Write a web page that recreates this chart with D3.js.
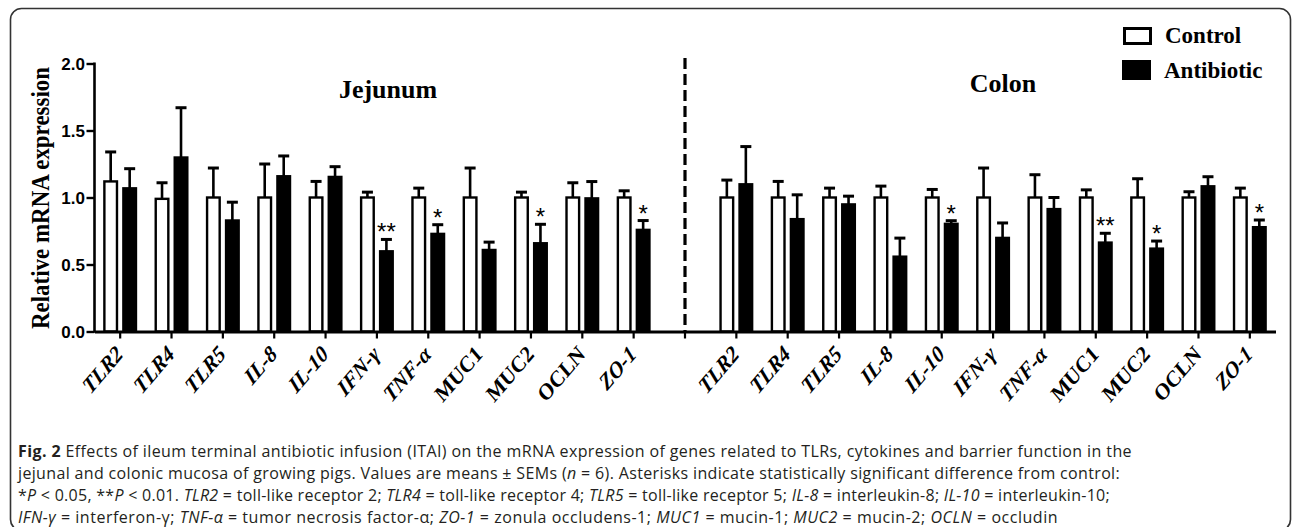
<!DOCTYPE html>
<html>
<head>
<meta charset="utf-8">
<script src="https://cdn.jsdelivr.net/npm/d3@7"></script>
<style>
  html, body { margin: 0; padding: 0; background: #fff; }
  svg { display: block; }
</style>
</head>
<body>
<svg id="chart" width="1292" height="527"></svg>
<script>
// ---------------- DATA ----------------
const genes = ["TLR2", "TLR4", "TLR5", "IL-8", "IL-10", "IFN-γ", "TNF-α", "MUC1", "MUC2", "OCLN", "ZO-1"];
const italicGenes = ["TLR2", "TLR4", "TLR5", "IL-8", "IL-10", "IFN-γ", "TNF-α", "ZO-1"];
const groups = ["Control", "Antibiotic"];
const yTicks = [0, 0.5, 1.0, 1.5, 2.0];

const jejControlMean = [1.12, 0.99, 1.00, 1.00, 1.00, 1.00, 1.00, 1.00, 1.00, 1.00, 1.00];
const jejControlSem  = [0.22, 0.12, 0.22, 0.25, 0.12, 0.04, 0.07, 0.22, 0.04, 0.11, 0.05];
const jejAntiMean    = [1.07, 1.30, 0.83, 1.16, 1.155, 0.60, 0.73, 0.61, 0.66, 0.995, 0.76];
const jejAntiSem     = [0.145, 0.37, 0.135, 0.15, 0.075, 0.087, 0.067, 0.057, 0.14, 0.124, 0.068];
const jejSig         = ["", "", "", "", "", "**", "*", "", "*", "", "*"];

const colControlMean = [1.00, 1.00, 1.00, 1.00, 1.00, 1.00, 1.00, 1.00, 1.00, 1.00, 1.00];
const colControlSem  = [0.13, 0.12, 0.07, 0.085, 0.06, 0.22, 0.17, 0.057, 0.14, 0.043, 0.07];
const colAntiMean    = [1.10, 0.84, 0.95, 0.56, 0.805, 0.70, 0.915, 0.665, 0.62, 1.085, 0.78];
const colAntiSem     = [0.28, 0.18, 0.06, 0.137, 0.022, 0.11, 0.085, 0.068, 0.055, 0.07, 0.052];
const colSig         = ["", "", "", "", "*", "", "", "**", "*", "", "*"];

const sectionTitles = ["Jejunum", "Colon"];

// ---------------- BUILD ----------------
const rows = [];
genes.forEach((g, i) => rows.push({key: "J-" + g, gene: g, c: jejControlMean[i], cs: jejControlSem[i], a: jejAntiMean[i], as: jejAntiSem[i], sig: jejSig[i]}));
const gapKey = "gap";
genes.forEach((g, i) => rows.push({key: "C-" + g, gene: g, c: colControlMean[i], cs: colControlSem[i], a: colAntiMean[i], as: colAntiSem[i], sig: colSig[i]}));
const keys = rows.slice(0, genes.length).map(d => d.key).concat([gapKey], rows.slice(genes.length).map(d => d.key));
const geneOf = {}; rows.forEach(d => geneOf[d.key] = d.gene); geneOf[gapKey] = "";

const svg = d3.select("#chart");
const serif = "'Liberation Serif', 'Times New Roman', serif";
const sans = "'Liberation Sans', Arial, sans-serif";

// frame
svg.append("rect").attr("x", 10.5).attr("y", 8.5).attr("width", 1280).attr("height", 522)
  .attr("rx", 11).attr("fill", "none").attr("stroke", "#333").attr("stroke-width", 1.6);

const x = d3.scaleBand().domain(keys).range([94.5, 1275.5]).paddingInner(0).paddingOuter(0);
const xi = d3.scaleBand().domain(groups).range([0, x.bandwidth()]).paddingInner(0.21).paddingOuter(0.457);
const y = d3.scaleLinear().domain([0, 2]).range([331.5, 63.5]);

// bars
const g = svg.append("g");
const sw = 2.4;
rows.forEach(d => {
  const x0 = x(d.key);
  const cx = x0 + xi("Control");
  g.append("rect").attr("x", cx + sw / 2).attr("y", y(d.c)).attr("width", xi.bandwidth() - sw)
    .attr("height", y(0) - y(d.c)).attr("fill", "#fff").attr("stroke", "#000").attr("stroke-width", sw);
  const ax = x0 + xi("Antibiotic");
  g.append("rect").attr("x", ax).attr("y", y(d.a) - 1).attr("width", xi.bandwidth())
    .attr("height", y(0) - y(d.a) + 1).attr("fill", "#000");
  [[cx, d.c, d.cs], [ax, d.a, d.as]].forEach(([bx, m, s]) => {
    const mx = bx + xi.bandwidth() / 2;
    g.append("line").attr("x1", mx).attr("x2", mx).attr("y1", y(m)).attr("y2", y(m + s))
      .attr("stroke", "#000").attr("stroke-width", 2.6);
    g.append("line").attr("x1", mx - 5.5).attr("x2", mx + 5.5).attr("y1", y(m + s)).attr("y2", y(m + s))
      .attr("stroke", "#000").attr("stroke-width", 3);
  });
  if (d.sig) {
    g.append("text").attr("x", ax + xi.bandwidth() / 2).attr("y", y(d.a + d.as) + 1)
      .attr("text-anchor", "middle").attr("font-family", sans).attr("font-size", 24)
      .text(d.sig);
  }
});

// axes
const yAxis = svg.append("g").attr("transform", "translate(94.5,0)")
  .call(d3.axisLeft(y).tickValues(yTicks).tickFormat(d3.format(".1f")).tickSize(8).tickSizeOuter(0));
yAxis.select(".domain").attr("stroke-width", 2.6).attr("d", `M0,${y(0) + 1.3}V${y(2) - 1}`);
yAxis.selectAll(".tick line").attr("stroke-width", 2.4);
yAxis.selectAll(".tick text").attr("font-family", sans).attr("font-weight", "bold").attr("font-size", 17)
  .attr("fill", "#000").attr("x", -9.5).attr("dy", "0.36em");

const xAxis = svg.append("g").attr("transform", `translate(0,${y(0)})`)
  .call(d3.axisBottom(x).tickFormat(k => geneOf[k]).tickSize(7).tickSizeOuter(0));
xAxis.select(".domain").attr("stroke-width", 2.8);
xAxis.selectAll(".tick line").attr("stroke-width", 2.2);
xAxis.selectAll(".tick text")
  .attr("font-family", serif).attr("font-weight", "bold").attr("font-size", 20).attr("fill", "#000")
  .attr("font-style", k => italicGenes.includes(geneOf[k]) ? "italic" : "normal")
  .attr("text-anchor", "end").attr("dy", null).attr("y", 0)
  .attr("transform", "translate(4,24) scale(1,1.17) rotate(-45)");

// divider
svg.append("line").attr("x1", x(gapKey) + x.bandwidth() / 2).attr("x2", x(gapKey) + x.bandwidth() / 2)
  .attr("y1", 58).attr("y2", y(0)).attr("stroke", "#000").attr("stroke-width", 3.2)
  .attr("stroke-dasharray", "11,5");

// section titles
svg.append("text").attr("x", 388).attr("y", 98).attr("text-anchor", "middle")
  .attr("font-family", serif).attr("font-weight", "bold").attr("font-size", 26).text(sectionTitles[0]);
svg.append("text").attr("x", 1003).attr("y", 92).attr("text-anchor", "middle")
  .attr("font-family", serif).attr("font-weight", "bold").attr("font-size", 26).text(sectionTitles[1]);

// y title
svg.append("text").attr("transform", "translate(49,198) rotate(-90)").attr("text-anchor", "middle")
  .attr("font-family", serif).attr("font-weight", "bold").attr("font-size", 25)
  .attr("textLength", 262).attr("lengthAdjust", "spacingAndGlyphs").text("Relative mRNA expression");

// legend
const lg = svg.append("g");
lg.append("rect").attr("x", 1124.5).attr("y", 28.5).attr("width", 26).attr("height", 15)
  .attr("fill", "#fff").attr("stroke", "#000").attr("stroke-width", 3);
lg.append("rect").attr("x", 1122).attr("y", 60).attr("width", 29).attr("height", 20).attr("fill", "#000");
lg.append("text").attr("x", 1165).attr("y", 43).attr("font-family", serif).attr("font-weight", "bold")
  .attr("font-size", 23).text(groups[0]);
lg.append("text").attr("x", 1164).attr("y", 78).attr("font-family", serif).attr("font-weight", "bold")
  .attr("font-size", 23).text(groups[1]);

// caption
const capLines = [
  [["b", "Fig. 2"], ["", " Effects of ileum terminal antibiotic infusion (ITAI) on the mRNA expression of genes related to TLRs, cytokines and barrier function in the"]],
  [["", "jejunal and colonic mucosa of growing pigs. Values are means ± SEMs ("], ["i", "n"], ["", " = 6). Asterisks indicate statistically significant difference from control:"]],
  [["", "*"], ["i", "P"], ["", " < 0.05, **"], ["i", "P"], ["", " < 0.01. "], ["i", "TLR2"], ["", " = toll-like receptor 2; "], ["i", "TLR4"], ["", " = toll-like receptor 4; "], ["i", "TLR5"], ["", " = toll-like receptor 5; "], ["i", "IL-8"], ["", " = interleukin-8; "], ["i", "IL-10"], ["", " = interleukin-10;"]],
  [["i", "IFN-γ"], ["", " = interferon-γ; "], ["i", "TNF-α"], ["", " = tumor necrosis factor-α; "], ["i", "ZO-1"], ["", " = zonula occludens-1; "], ["i", "MUC1"], ["", " = mucin-1; "], ["i", "MUC2"], ["", " = mucin-2; "], ["i", "OCLN"], ["", " = occludin"]]
];
const capBase = [457, 479, 501, 523];
const capTarget = [1114, 1102, 1092, 1040];
capLines.forEach((parts, i) => {
  const t = svg.append("text").attr("x", 18).attr("y", capBase[i])
    .attr("font-family", "'Open Sans', 'Noto Sans', sans-serif").attr("font-size", 16).attr("fill", "#231f20");
  parts.forEach(([st, s]) => {
    const ts = t.append("tspan").text(s);
    if (st === "b") ts.attr("font-weight", "bold");
    if (st === "i") ts.attr("font-style", "italic");
  });
  const w = t.node().getComputedTextLength();
  const n = parts.map(p => p[1]).join("").length;
  const ls = Math.max(-0.5, Math.min(1, (capTarget[i] - w) / n));
  t.attr("letter-spacing", ls.toFixed(3));
});
</script>
</body>
</html>
